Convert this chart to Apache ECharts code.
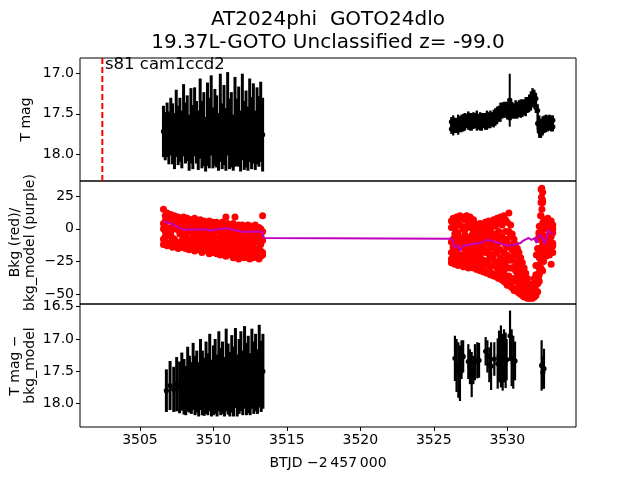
<!DOCTYPE html>
<html><head><meta charset="utf-8">
<script src="https://cdn.jsdelivr.net/npm/echarts@6/dist/echarts.min.js"></script>
<style>html,body{margin:0;padding:0;background:#fff}#c{width:640px;height:480px}</style>
</head><body><div id="c"></div>
<script>
// ---------- data ----------
const xTicks = [3505, 3510, 3515, 3520, 3525, 3530];
const y1Ticks = [17.0, 17.5, 18.0];
const y2Ticks = [-50, -25, 0, 25];
const y3Ticks = [16.5, 17.0, 17.5, 18.0];
const vlineX = [3502.44];

// panel 1, first season
const tA = [3506.60,3506.72,3506.85,3506.97,
3507.10,3507.22,3507.35,3507.47,3507.60,3507.72,3507.85,3507.97,
3508.10,3508.22,3508.35,3508.47,3508.60,3508.72,3508.85,3508.97,
3509.10,3509.22,3509.35,3509.47,3509.60,3509.72,3509.85,3509.97,
3510.10,3510.22,3510.35,3510.47,3510.60,3510.72,3510.85,3510.97,
3511.10,3511.22,3511.35,3511.47,3511.60,3511.72,3511.85,3511.97,
3512.10,3512.22,3512.35,3512.47,3512.60,3512.72,3512.85,3512.97,
3513.10,3513.22,3513.35];
const magA = [17.72,17.78,17.70,17.80,
17.66,17.75,17.84,17.62,17.77,17.70,17.82,17.58,
17.74,17.68,17.86,17.65,17.79,17.60,17.73,17.83,
17.56,17.76,17.69,17.88,17.63,17.74,17.52,17.80,
17.67,17.72,17.85,17.55,17.78,17.64,17.82,17.50,
17.75,17.70,17.86,17.60,17.73,17.66,17.84,17.54,
17.77,17.69,17.81,17.58,17.74,17.62,17.83,17.65,
17.72,17.60,17.76];
const errA = [0.32,0.30,0.34,0.33,
0.36,0.38,0.35,0.42,0.37,0.40,0.36,0.45,
0.38,0.41,0.35,0.47,0.40,0.43,0.39,0.37,
0.50,0.42,0.46,0.34,0.52,0.44,0.50,0.38,
0.48,0.45,0.36,0.55,0.41,0.50,0.39,0.52,
0.44,0.47,0.35,0.56,0.42,0.50,0.38,0.54,
0.43,0.48,0.40,0.52,0.45,0.50,0.37,0.48,
0.44,0.50,0.46];

// panel 1, second season
const tB = [3526.20,3526.32,3526.43,3526.55,3526.66,3526.78,3526.89,
3527.01,3527.12,3527.24,3527.35,3527.47,3527.58,3527.70,3527.81,3527.93,
3528.04,3528.16,3528.27,3528.39,3528.50,3528.62,3528.73,3528.85,3528.96,
3529.08,3529.19,3529.31,3529.42,3529.54,3529.65,3529.77,3529.88,
3530.00,3530.11,3530.23,3530.34,3530.46,3530.57,3530.69,3530.80,3530.92,
3531.03,3531.15,3531.26,3531.38,3531.49,3531.61,3531.72,3531.84,3531.95,
3532.07,3532.18,3532.30,3532.41,3532.53,3532.64,3532.76,3532.87,3532.99,
3533.10];
const magB = [17.60,17.59,17.61,17.60,17.58,17.59,17.57,
17.57,17.55,17.55,17.53,17.56,17.55,17.54,17.54,17.53,
17.56,17.54,17.56,17.54,17.55,17.53,17.54,17.52,17.53,
17.51,17.50,17.47,17.46,17.43,17.42,17.40,17.41,
17.41,17.43,17.42,17.41,17.42,17.40,17.41,17.39,17.39,
17.38,17.38,17.36,17.35,17.32,17.29,17.25,17.26,17.31,
17.46,17.60,17.63,17.60,17.58,17.57,17.58,17.56,17.58,
17.58];
const magB2 = [17.69,17.70,17.68,17.69,17.69,17.67,17.67,
17.65,17.65,17.63,17.64,17.64,17.65,17.63,17.63,17.64,
17.64,17.65,17.64,17.63,17.64,17.63,17.62,17.62,17.61,
17.61,17.58,17.57,17.54,17.53,17.50,17.50,17.49,
17.51,17.51,17.52,17.50,17.51,17.49,17.50,17.48,17.48,
17.48,17.46,17.46,17.43,17.42,17.39,17.35,17.35,17.42,
17.62,17.72,17.73,17.70,17.68,17.67,17.66,17.66,17.66,
17.66];
const errB = [0.06,0.07,0.06,0.05,0.07,0.06,0.06,
0.07,0.06,0.05,0.06,0.07,0.06,0.06,0.05,0.07,
0.06,0.06,0.07,0.05,0.06,0.07,0.06,0.06,0.05,
0.06,0.07,0.06,0.06,0.07,0.06,0.05,0.06,
0.06,0.07,0.06,0.06,0.05,0.07,0.06,0.06,0.07,
0.06,0.06,0.07,0.06,0.06,0.07,0.07,0.06,0.07,
0.08,0.08,0.07,0.07,0.06,0.06,0.06,0.05,0.06,
0.06];
const outT = [3530.17];
const outMag = [17.33];
const outErr = [0.33];

// panel 2, background (red), first season
const bkgA1 = [15,10,12,9, 11,8,10,7,9,8,6,9, 7,8,6,7,5,8,6,4, 7,5,6,3,5,6,4,5, 3,5,4,2,5,3,9,4, 3,2,4,9,2,3,1,3, 2,1,3,0,2,1,3,0, 1,0,10];
const bkgA2 = [-12,-10,-13,-11, -12,-14,-11,-13,-15,-12,-14,-13, -15,-13,-16,-14,-12,-17,-15,-16, -14,-18,-16,-15,-17,-19,-16,-18, -17,-19,-16,-20,-18,-17,-21,-19, -18,-20,-22,-19,-21,-23,-20,-19, -22,-20,-21,-23,-19,-22,-20,-21, -23,-21,-20];
const bkgA3 = [4,-6,1,7, -3,5,-8,2,-1,6,-9,0, 3,-10,-2,4,-7,1,-11,-4, -6,2,-12,-1,-9,0,-13,-5, -2,-14,-7,1,-11,-4,-15,-8, -9,-1,-16,-5,-12,0,-14,-7, -3,-15,-9,-17,-6,-12,-2,-16, -10,-4,-18];
const bkgA4 = [-8,6,-3,0, 7,-7,3,-10,5,-4,1,-8, -6,5,-12,-1,2,-9,4,-13, 1,-10,-4,-14,3,-8,-2,-11, -12,0,-16,-5,-1,-13,-3,-10, -4,-13,-7,-17,-2,-10,-6,-15, -13,-5,-18,-2,-14,-8,-17,-6, -15,-12,-2];
const bkgA5 = [0,-2,8,-5, -6,1,0,5,-11,-1,4,-4, -1,-7,1,-9,-3,3,-6,0, -9,-3,0,-8,-14,-4,1,-1, -8,-10,-1,-13,-6,0,-10,-2, -14,-6,-11,1,-8,-17,-1,-11, -9,-18,-1,-11,-4,-16,-10,-1, -6,-17,-9];

// panel 2, background (red), second season
const bkgB1 = [6,8,5,9,7,10,8, 9,7,10,8,9,6,7,4,3, 2,4,1,3,5,2,6,4,5, 7,4,8,5,9,6,10,7, 5,12,3,-4,-8,-12,-15,-18,-22, -26,-30,-34,-38,-42,-45,-44,-38,-28, -8,2,20,28,7,5,8,4,6, 3];
const bkgB2 = [-10,2,-20,-5,-15,3,-22, 0,-18,-8,4,-23,-12,-2,-20,-6, -25,-4,-14,0,-27,-10,-19,-1,-23, -15,2,-30,-8,-22,3,-33,-12, -20,-36,-5,-30,-12,-40,-25,-43,-30, -45,-36,-40,-48,-46,-49,-48,-44,-35, -15,-30,10,-20,-8,3,-15,-4,-12, 0];
const bkgB3 = [-18,-8,0,-22,-3,-13,-9, -22,-5,-16,-11,1,-20,-9,2,-17, -8,-22,1,-17,-5,-26,-2,-14,-9, -28,-12,-4,-32,-16,-6,-24,-2, -8,-24,-38,-16,-38,-20,-40,-26,-44, -32,-46,-45,-42,-49,-48,-50,-47,-42, -38,-5,-18,20,-14,-10,1,-16,-6, -11];
const bkgB4 = [-26,-24,-27,-25,-28,-22,-27, -29,-26,-28,-30,-27,-29,-30,-28,-31, -30,-32,-31,-33,-32,-34,-33,-35,-34, -36,-35,-37,-38,-37,-39,-40,-41, -43,-42,-44,-45,-47,-46,-48,-49,-50, -51,-52,-52,-53,-53,-53,-53,-52,-51, -48,-40,-30,-32,-19,-21,-18,-20,-27, -18];
const bkgB5 = [1,-14,-10,-16,-21,-7,2, -12,-1,-24,-19,-7,3,-24,-12,-1, -15,-12,-27,-8,-18,-3,-24,-29,-4, -4,-25,-18,-2,-33,-25,-8,-28, -30,-12,-22,-40,-20,-32,-18,-35,-38, -40,-34,-47,-44,-44,-50,-46,-42,-48, -28,-22,-5,0,0,-16,-7,-9,2, -13];
const bkgB6 = [-23,-19,-4,4,-9,-20,-14, -7,-25,2,-27,-15,-5,-17,-22,-11, -2,-18,-9,-24,-11,-16,-7,-20,-13, -20,-6,-14,-26,-10,-30,-18,-36, -14,-2,-30,-24,-30,-28,-34,-22,-28, -37,-42,-38,-46,-47,-48,-51,-49,-39, -42,-35,-25,-12,-11,-6,-13,2,-15, -3];
const extraT = [3531.90,3531.98,3532.02,3532.05,3532.10,3532.12,3532.15,3532.20,3532.22,3532.25,3532.27,3532.31,3532.33,3532.35,3532.36,3532.38,3532.40,3532.43,3532.45,3532.47];
const extraV = [-45,-20,-40,-28,-15,-38,-3,-33,-20,-8,10,30,24,31,15,-22,22,5,-5,-25];

// panel 2, background model (purple)
const modelT = [3506.60,3506.80,3507.05,3507.40,3507.70,3508.05,3508.30,3508.60,3509.00,3509.50,3509.80,3510.20,3510.60,3510.90,3511.30,3511.60,3512.00,3512.50,3513.00,3513.30,3513.45,
3526.20,3526.32,3526.44,3526.60,3526.78,3527.00,3527.25,3527.50,3527.80,3528.10,3528.40,3528.65,3528.90,3529.20,3529.50,3529.75,3530.05,3530.35,3530.64,3530.90,3531.10,3531.30,3531.45,3531.66,3531.85,3532.00,3532.16,3532.34,3532.57,3532.80,3533.00,3533.12];
const modelV = [5.6,5.0,4.3,2.5,0.5,-0.8,-0.5,-0.3,-0.5,-0.3,-1.5,-0.3,0.0,0.5,-0.5,-1.5,-2.5,-2.0,-2.2,-2.0,-7.1,
-7.5,-10.0,-14.6,-12.5,-16.7,-13.0,-12.5,-12.0,-11.2,-10.9,-9.8,-8.3,-9.0,-10.2,-10.9,-12.0,-12.9,-12.3,-11.6,-10.8,-9.0,-7.8,-7.0,-8.5,-7.0,-10.9,-4.5,-6.0,-11.6,-0.8,-3.3,-4.5];

// panel 3, mag minus background model
const t3A = [3506.80,3507.05,3507.30,3507.50,3507.70,3507.85,
3508.00,3508.12,3508.25,3508.37,3508.50,3508.62,3508.75,3508.87,
3509.00,3509.12,3509.25,3509.37,3509.50,3509.62,3509.75,3509.87,
3510.00,3510.12,3510.25,3510.37,3510.50,3510.62,3510.75,3510.87,
3511.00,3511.12,3511.25,3511.37,3511.50,3511.62,3511.75,3511.87,
3512.00,3512.12,3512.25,3512.37,3512.50,3512.62,3512.75,3512.87,
3513.00,3513.12,3513.25,3513.37];
const mag3A = [17.80,17.72,17.78,17.70,17.75,17.66,
17.74,17.80,17.62,17.70,17.76,17.58,17.72,17.66,
17.78,17.55,17.68,17.74,17.60,17.70,17.52,17.76,
17.64,17.58,17.72,17.50,17.66,17.60,17.74,17.48,
17.62,17.70,17.54,17.66,17.45,17.72,17.58,17.50,
17.68,17.44,17.62,17.55,17.70,17.46,17.60,17.52,
17.66,17.42,17.58,17.50];
const err3A = [0.33,0.38,0.35,0.42,0.40,0.45,
0.43,0.38,0.50,0.44,0.40,0.52,0.46,0.48,
0.42,0.55,0.50,0.45,0.56,0.48,0.60,0.44,
0.54,0.58,0.48,0.62,0.52,0.56,0.46,0.64,
0.55,0.50,0.60,0.54,0.62,0.48,0.58,0.62,
0.50,0.64,0.56,0.60,0.48,0.62,0.56,0.60,
0.50,0.64,0.55,0.58];
const t3B = [3526.44,3526.55,3526.67,3526.78,3526.89,3527.00,3527.35,3527.46,3527.58,3527.69,3527.80,3527.96,3528.08,3528.53,3528.65,3528.78,3528.90,3529.12,3529.35,3529.44,3529.57,3529.69,3529.78,3529.89,3529.96,3530.19,3530.30,3530.41,3530.53,3532.34,3532.42,3532.50];
const mag3B = [17.30,17.41,17.48,17.53,17.32,17.27,17.35,17.43,17.55,17.48,17.36,17.33,17.33,17.19,17.27,17.40,17.42,17.31,17.38,17.27,17.27,17.36,17.26,17.33,17.32,16.95,17.29,17.36,17.34,17.41,17.52,17.46];
const err3B = [0.35,0.41,0.43,0.43,0.30,0.25,0.27,0.27,0.35,0.22,0.28,0.28,0.27,0.22,0.25,0.27,0.37,0.26,0.39,0.40,0.48,0.44,0.41,0.43,0.32,0.39,0.44,0.41,0.30,0.39,0.25,0.31];

// ---------- chart ----------
const FONT = 'DejaVu Sans';
const zip3 = (a, b, c) => a.map((v, i) => [v, b[i], c[i]]);
const zip2 = (a, b) => a.map((v, i) => [v, b[i]]);
const minus = v => (v < 0 ? '\u2212' + Math.abs(v) : String(v));

function makeErrRender(lw) {
  return function (params, api) {
    const x = api.value(0), y = api.value(1), e = api.value(2);
    const p0 = api.coord([x, y - e]), p1 = api.coord([x, y + e]), c = api.coord([x, y]);
    return {
      type: 'group',
      children: [
        { type: 'line', shape: { x1: p0[0], y1: p0[1], x2: p1[0], y2: p1[1] }, style: { stroke: '#000', lineWidth: lw } },
        { type: 'circle', shape: { cx: c[0], cy: c[1], r: 2.6 }, style: { fill: '#000' } }
      ]
    };
  };
}

const GL = 80, GW = 496, GH = 123;
const tops = [58, 181, 304];
const grids = tops.map(t => ({ left: GL, top: t, width: GW, height: GH, show: true, borderColor: '#000', borderWidth: 1, backgroundColor: 'transparent' }));

const xAxes = [0, 1, 2].map(i => ({
  type: 'value', gridIndex: i, min: 3500.92, max: 3534.68,
  splitLine: { show: false }, axisLine: { show: false },
  axisTick: { show: i === 2, length: 4, lineStyle: { color: '#000' }, customValues: xTicks },
  axisLabel: { show: i === 2, customValues: xTicks, color: '#000', fontFamily: FONT, fontSize: 14, margin: 6, formatter: v => String(v) }
}));

function yAx(i, min, max, ticks, fmt) {
  return {
    type: 'value', gridIndex: i, min: min, max: max, inverse: i !== 1,
    splitLine: { show: false }, axisLine: { show: false },
    axisTick: { show: true, length: 4, lineStyle: { color: '#000' }, customValues: ticks },
    axisLabel: { customValues: ticks, color: '#000', fontFamily: FONT, fontSize: 14, margin: 6, formatter: fmt }
  };
}
const yAxes = [
  yAx(0, 16.804, 18.338, y1Ticks, v => Number(v).toFixed(1)),
  yAx(1, -57.4, 36.5, y2Ticks, minus),
  yAx(2, 16.458, 18.363, y3Ticks, v => Number(v).toFixed(1))
];

const redStyle = { color: '#ff0000', opacity: 1 };
const redScatter = data => ({ type: 'scatter', xAxisIndex: 1, yAxisIndex: 1, symbolSize: 7, itemStyle: redStyle, data: data, silent: true, z: 2 });
const redSeries = [bkgA1, bkgA2, bkgA3, bkgA4, bkgA5].map(a => redScatter(zip2(tA, a)))
  .concat([bkgB1, bkgB2, bkgB3, bkgB4, bkgB5, bkgB6].map(a => redScatter(zip2(tB, a))))
  .concat([redScatter(zip2(extraT, extraV))]);

const errSeries = (xi, data, lw) => ({ type: 'custom', xAxisIndex: xi, yAxisIndex: xi, renderItem: makeErrRender(lw), data: data, clip: true, encode: { x: 0, y: 1 }, silent: true, z: 3 });

const txt = (x, y, text, size, extra) => Object.assign({ type: 'text', x: x, y: y, z: 10, style: { text: text, font: size + 'px "DejaVu Sans"', fill: '#000', textAlign: 'center', textVerticalAlign: 'middle' } }, extra || {});

const option = {
  animation: false,
  backgroundColor: '#fff',
  grid: grids,
  xAxis: xAxes,
  yAxis: yAxes,
  series: [
    errSeries(0, zip3(tA, magA, errA), 3),
    errSeries(0, zip3(tB, magB, errB), 2.4),
    errSeries(0, zip3(tB, magB2, errB), 2.4),
    errSeries(0, zip3(outT, outMag, outErr), 2),
    { type: 'line', xAxisIndex: 0, yAxisIndex: 0, data: [[vlineX[0], 16.804], [vlineX[0], 18.338]], showSymbol: false, lineStyle: { color: '#ff0000', width: 2, type: [6, 3] }, silent: true, z: 4 },
    ...redSeries,
    { type: 'line', xAxisIndex: 1, yAxisIndex: 1, data: zip2(modelT, modelV), showSymbol: false, lineStyle: { color: '#bf00bf', width: 2 }, silent: true, z: 5 },
    errSeries(2, zip3(t3A, mag3A, err3A), 3),
    errSeries(2, zip3(t3B, mag3B, err3B), 2.2)
  ],
  graphic: [
    txt(328, 20, 'AT2024phi  GOTO24dlo', 20),
    txt(328, 43, '19.37L-GOTO Unclassified z= -99.0', 20),
    { type: 'text', x: 105, y: 65, z: 10, style: { text: 's81 cam1ccd2', font: '16.5px "DejaVu Sans"', fill: '#000', textAlign: 'left', textVerticalAlign: 'middle' } },
    txt(26, 119.5, 'T mag', 14, { rotation: Math.PI / 2 }),
    txt(15, 242.5, 'Bkg (red)/', 14, { rotation: Math.PI / 2 }),
    txt(30, 242.5, 'bkg_model (purple)', 14, { rotation: Math.PI / 2 }),
    txt(15, 365.5, 'T mag \u2212', 14, { rotation: Math.PI / 2 }),
    txt(30, 365.5, 'bkg_model', 14, { rotation: Math.PI / 2 }),
    txt(328, 463, 'BTJD \u22122\u2009457\u2009000', 14)
  ]
};
const chart = echarts.init(document.getElementById('c'), null, { renderer: 'canvas' });
chart.setOption(option);
</script></body></html>
